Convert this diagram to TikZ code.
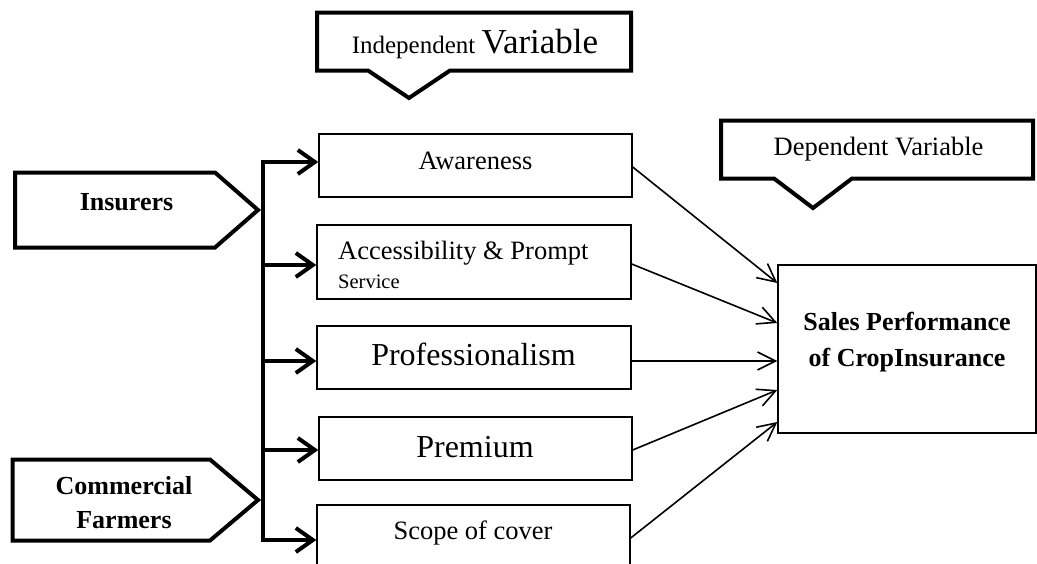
\documentclass[tikz,border=0pt]{standalone}
\usepackage{fontspec}
\setmainfont{Liberation Serif}
\usetikzlibrary{arrows.meta}
\begin{document}
\begin{tikzpicture}[x=1pt,y=-1pt,
  heavy/.style={line width=4pt, line join=miter},
  flowbox/.style={draw, line width=1.4pt, rectangle, inner sep=0pt},
  feed/.style={line width=4pt, line join=miter, -{Straight Barb[length=17pt,width=24pt]}},
  link/.style={line width=1.6pt, -{Straight Barb[length=18pt,width=18pt]}},
  lbl/.style={inner sep=0pt, anchor=base},
  txt/.style={font=\fontsize{26.5}{30}\selectfont},
  bigtxt/.style={font=\fontsize{32}{36}\selectfont},
]
\clip (0,0) rectangle (1037,563);

% callout banners
\draw[heavy] (317,12.5) -- (631,12.5) -- (631,70.5) -- (450,70.5) -- (409,98)
  -- (368,70.5) -- (317,70.5) -- cycle;
\node[lbl, font=\fontsize{25}{30}\selectfont] (indep) at (475,53)
  {Independent \fontsize{35}{40}\selectfont Variable};

\draw[heavy] (721,120.5) -- (1033,120.5) -- (1033,178.5) -- (852,178.5) -- (813,208)
  -- (774,178.5) -- (721,178.5) -- cycle;
\node[lbl, txt] (dep) at (878.5,155) {Dependent Variable};

% source pentagons
\draw[heavy] (15,172.5) -- (215,172.5) -- (258,210) -- (215,247.5) -- (15,247.5) -- cycle;
\node[lbl, font=\bfseries\fontsize{26}{30}\selectfont] (ins) at (126.5,210) {Insurers};

\draw[heavy] (12.5,459.5) -- (210,459.5) -- (258,500) -- (210,540.5) -- (12.5,540.5) -- cycle;
\node[inner sep=0pt, align=center, font=\bfseries\fontsize{26}{34}\selectfont] (cf)
  at (124,503) {Commercial\\Farmers};

% factor boxes
\node[flowbox, minimum width=313pt, minimum height=63pt] (aw) at (475.5,165.5) {};
\node[lbl, txt] (awT) at (475.5,169) {Awareness};

\node[flowbox, minimum width=314pt, minimum height=74pt] (ac) at (474,262) {};
\node[inner sep=0pt, anchor=west, align=left, font=\fontsize{26.5}{29}\selectfont]
  (acT) at (338,264.6)
  {Accessibility \& Prompt\\{\fontsize{20.5}{29}\selectfont Service}};

\node[flowbox, minimum width=314pt, minimum height=63pt] (pr) at (474,357.5) {};
\node[lbl, bigtxt] (prT) at (473.5,365) {Professionalism};

\node[flowbox, minimum width=313pt, minimum height=63pt] (pm) at (475.5,448.5) {};
\node[lbl, bigtxt] (pmT) at (475,457) {Premium};

\node[flowbox, minimum width=313pt, minimum height=65pt] (sc) at (473.5,537.5) {};
\node[lbl, txt] (scT) at (473,539) {Scope of cover};

% outcome box
\node[flowbox, minimum width=258pt, minimum height=168pt] (sp) at (907,349) {};
\node[inner sep=0pt, align=center, font=\bfseries\fontsize{26}{36}\selectfont] (spT)
  at (907,342) {Sales Performance\\of CropInsurance};

% distribution bus
\coordinate (busTop) at (263,162);
\coordinate (b2) at (263,265);
\coordinate (b3) at (263,361);
\coordinate (b4) at (263,450);
\coordinate (busBot) at (263,540);

\draw[feed] (busBot) -- (busTop) -- (busTop -| aw.west);
\draw[feed] (b4) -- (busBot) -- (busBot -| sc.west);
\draw[feed] (b2) -- (b2 -| ac.west);
\draw[feed] (b3) -- (b3 -| pr.west);
\draw[feed] (b4) -- (b4 -| pm.west);

% links to outcome
\draw[link] ([yshift=-1.5pt]aw.east) -- ([yshift=66pt]sp.west);
\draw[link] ([yshift=-2pt]ac.east) -- ([yshift=26pt]sp.west);
\draw[link] ([yshift=-3.5pt]pr.east) -- ([yshift=-12pt]sp.west);
\draw[link] ([yshift=-1.5pt]pm.east) -- ([yshift=-41pt]sp.west);
\draw[link] ([yshift=-0.5pt]sc.east) -- ([yshift=-73pt]sp.west);
\end{tikzpicture}
\end{document}
